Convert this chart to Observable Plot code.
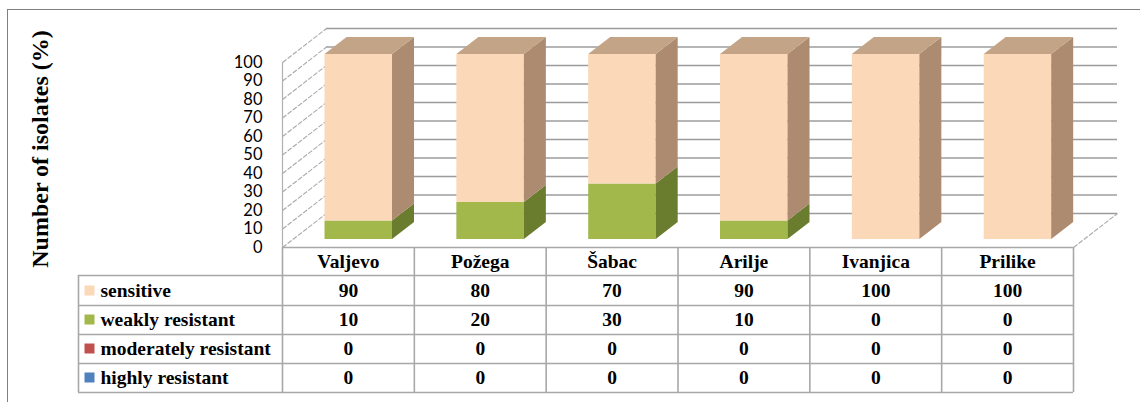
<!DOCTYPE html>
<html>
<head>
<meta charset="utf-8">
<script src="https://cdn.jsdelivr.net/npm/d3@7"></script>
<script src="https://cdn.jsdelivr.net/npm/@observablehq/plot@0.6"></script>
<style>
  html, body { margin: 0; padding: 0; background: #fff; }
  #wrap { position: relative; width: 1140px; height: 402px; overflow: hidden; }
  #border { position: absolute; left: 7px; top: 9px; width: 1140px; height: 400px;
            border-top: 1.5px solid #7f7f7f; border-left: 1.5px solid #7f7f7f; pointer-events: none; }
  #wrap svg { position: absolute; left: 0; top: 0; }
</style>
</head>
<body>
<div id="wrap"><div id="border"></div></div>
<script>
// ---- data ----
const cities = ["Valjevo", "Požega", "Šabac", "Arilje", "Ivanjica", "Prilike"];
const series = ["sensitive", "weakly resistant", "moderately resistant", "highly resistant"];
const sensitive = [90, 80, 70, 90, 100, 100];
const weaklyResistant = [10, 20, 30, 10, 0, 0];
const moderatelyResistant = [0, 0, 0, 0, 0, 0];
const highlyResistant = [0, 0, 0, 0, 0, 0];
const yTicks = [0, 10, 20, 30, 40, 50, 60, 70, 80, 90, 100];
const yLabel = "Number of isolates (%)";

const values = [sensitive, weaklyResistant, moderatelyResistant, highlyResistant];
const frontColors = ["#FBD8B8", "#A2B84B", "#C0504D", "#4F81BD"];
const sideColors  = ["#AC8B71", "#6A7C2E", "#8C3A38", "#385D8A"];
const topColors   = ["#C4A487", "#7F9138", "#A04543", "#426EA3"];

// ---- layout (pixel constants converted to scale units) ----
const left = 282, right = 1073, base = 247, top100 = 62;
const PX = (right - left) / cities.length;   // px per column
const PY = (base - top100) / 100;            // px per percent
const DX = 44 / PX, DY = 34 / PY;            // full depth of the 3D box
const fF = 8 / 34, fB = 25 / 34;             // bar front/back depth fractions
const barW = 67.5 / PX;
const below = off => -off / PY;              // offset below the floor edge, in y units
const rowLines = [0, 28, 58, 87, 116, 145];
const rowCenter = k => below(43 + 29 * k);
const legendLeft = -(left - 78) / PX;

// stacked segments: bottom = highly ... top = sensitive
const stackOrder = [3, 2, 1, 0];
const segments = [];
const tops = [];
cities.forEach((c, i) => {
  let b = 0, last = null;
  for (const s of stackOrder) {
    const v = values[s][i];
    if (v > 0) { const seg = {i, s, y0: b, y1: b + v, key: c + s}; segments.push(seg); last = seg; }
    b += v;
  }
  if (last) tops.push(last);
});
const xl = d => d.i + 0.5 - barW / 2;
const xr = d => d.i + 0.5 + barW / 2;

const sideData = segments.flatMap(d => [fF, fB].map(f => ({
  key: d.key, x: xr(d) + f * DX, y1: d.y0 + f * DY, y2: d.y1 + f * DY, fill: sideColors[d.s]
})));
const topData = tops.flatMap(d => [fF, fB].map(f => ({
  key: d.key, y: d.y1 + f * DY, x1: xl(d) + f * DX, x2: xr(d) + f * DX, fill: topColors[d.s]
})));

const cells = [];
values.forEach((arr, k) => arr.forEach((v, i) => cells.push({k, i, v})));

const serif = "Liberation Serif, Times New Roman, serif";
const gridColor = "#9c9c9c";
const tableColor = "#a8a8a8";

const chart = Plot.plot({
  width: 1140, height: 402,
  marginLeft: left, marginRight: 1140 - right, marginTop: top100, marginBottom: 402 - base,
  x: {type: "linear", domain: [0, cities.length], axis: null},
  y: {type: "linear", domain: [0, 100], axis: null},
  color: {type: "identity"},
  style: {background: "transparent", color: "#000", overflow: "visible"},
  marks: [
    // back wall gridlines
    Plot.ruleY(yTicks, {y: d => d + DY, x1: DX, x2: cities.length + DX, stroke: gridColor, strokeWidth: 1.6}),
    // left wall lines
    Plot.link(yTicks, {x1: 0, y1: d => d, x2: DX, y2: d => d + DY, stroke: "#a9a9a9", strokeWidth: 1.1, strokeDasharray: "5,1.5"}),
    // left wall front edge
    Plot.ruleX([0], {y1: 0, y2: 100, stroke: "#b0b0b0", strokeWidth: 1.2}),
    // floor right edge
    Plot.link([cities.length], {x1: d => d, y1: 0, x2: d => d + DX, y2: DY, stroke: "#a9a9a9", strokeWidth: 1.1, strokeDasharray: "5,1.5"}),
    // bars
    Plot.rect(segments, {
      x1: d => xl(d) + fF * DX, x2: d => xr(d) + fF * DX,
      y1: d => d.y0 + fF * DY, y2: d => d.y1 + fF * DY,
      fill: d => frontColors[d.s]
    }),
    Plot.areaY(sideData, {x: "x", y1: "y1", y2: "y2", z: "key", fill: "fill", curve: "linear"}),
    Plot.areaX(topData, {y: "y", x1: "x1", x2: "x2", z: "key", fill: "fill", curve: "linear"}),
    // y axis tick labels
    Plot.axisY(yTicks, {anchor: "left", tickSize: 0, tickPadding: 20, label: null,
      fontSize: 16.5, fontFamily: "Lato, Open Sans, sans-serif", fill: "#000"}),
    // y axis title
    Plot.text([yLabel], {frameAnchor: "left", textAnchor: "middle", lineAnchor: "middle", dx: -242, dy: -6, rotate: -90,
      fontSize: 24, fontWeight: "bold", fontFamily: serif, fill: "#000"}),
    // data table grid
    Plot.ruleY(rowLines, {y: d => below(d), x1: d => d < 20 ? 0 : legendLeft, x2: cities.length,
      stroke: tableColor, strokeWidth: 1.6}),
    Plot.ruleX(d3.range(cities.length + 1), {x: d => d, y1: 0, y2: below(145), stroke: tableColor, strokeWidth: 1.6}),
    Plot.ruleX([legendLeft], {y1: below(28), y2: below(145), stroke: tableColor, strokeWidth: 1.6}),
    // header
    Plot.text(cities, {x: (d, i) => i + 0.5, y: () => below(14), text: d => d,
      fontSize: 19.5, fontWeight: "bold", fontFamily: serif, fill: "#000"}),
    // legend column
    Plot.dot(series, {x: () => 0, y: (d, k) => rowCenter(k), dx: -193, symbol: "square", r: 5.64,
      fill: (d, k) => frontColors[k]}),
    Plot.text(series, {x: () => 0, y: (d, k) => rowCenter(k), dx: -182, textAnchor: "start", text: d => d,
      fontSize: 19.5, fontWeight: "bold", fontFamily: serif, fill: "#000"}),
    // values
    Plot.text(cells, {x: d => d.i + 0.5, y: d => rowCenter(d.k), text: d => String(d.v),
      fontSize: 19.5, fontWeight: "bold", fontFamily: serif, fill: "#000"})
  ]
});
document.getElementById("wrap").appendChild(chart);
</script>
</body>
</html>
